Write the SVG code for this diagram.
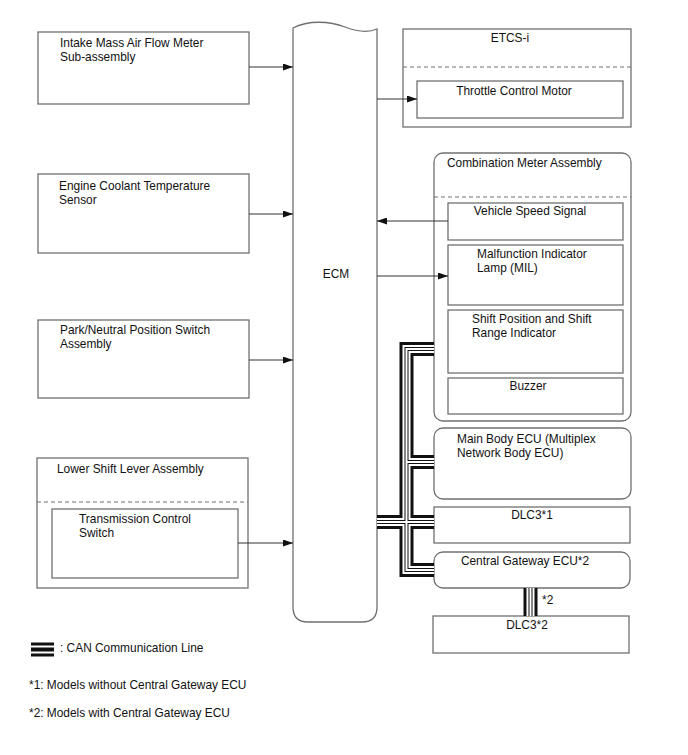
<svg xmlns="http://www.w3.org/2000/svg" xmlns:xlink="http://www.w3.org/1999/xlink" width="688" height="755" viewBox="0 0 688 755">
<style>
  .box{fill:#fff;stroke:#707070;stroke-width:1.3}
  .dash{fill:none;stroke:#707070;stroke-width:1.1;stroke-dasharray:4 3}
  .t{font-family:"Liberation Sans",Arial,sans-serif;font-size:11.9px;fill:#111}
  .m{text-anchor:middle}
  .arr{fill:none;stroke:#333;stroke-width:1;marker-end:url(#ah)}
  .l1{fill:none;stroke:#111;stroke-width:14;stroke-linejoin:miter}
  .l2{fill:none;stroke:#fff;stroke-width:8;stroke-linejoin:miter}
  .l3{fill:none;stroke:#111;stroke-width:4;stroke-linejoin:miter}
  .l4{fill:none;stroke:#fff;stroke-width:2;stroke-linejoin:miter}
</style>
<defs>
  <marker id="ah" markerUnits="userSpaceOnUse" markerWidth="10" markerHeight="7" refX="10" refY="3.5" orient="auto">
    <path d="M0,0 L10,3.5 L0,7 Z" fill="#111"/>
  </marker>
  <path id="bus" d="M434,349 H406.5 V570 H434 M377,522 H434 M406.5,462 H434 M530.5,588 V616"/>
  <path id="leg" d="M31,649.5 H54"/>
</defs>
<rect width="688" height="755" fill="#fff"/>

<g id="ecm">
  <path class="box" d="M293,28 C308,20 330,21 345,27 C358,32 368,33 377,29 L377,607 Q377,622 362,622 L308,622 Q293,622 293,607 Z"/>
  <text class="t m" x="336" y="278">ECM</text>
</g>

<g id="maf">
  <rect class="box" x="38" y="32" width="211" height="72"/>
  <text class="t" x="60" y="47">Intake Mass Air Flow Meter</text>
  <text class="t" x="60" y="61">Sub-assembly</text>
</g>
<g id="ect">
  <rect class="box" x="38" y="174" width="211" height="79"/>
  <text class="t" x="59" y="190">Engine Coolant Temperature</text>
  <text class="t" x="59" y="204">Sensor</text>
</g>
<g id="pnp">
  <rect class="box" x="38" y="320" width="211" height="78"/>
  <text class="t" x="60" y="334">Park/Neutral Position Switch</text>
  <text class="t" x="60" y="348">Assembly</text>
</g>
<g id="lsl">
  <rect class="box" x="37" y="458" width="211" height="130"/>
  <line class="dash" x1="37" y1="502" x2="248" y2="502"/>
  <text class="t" x="57" y="473">Lower Shift Lever Assembly</text>
</g>
<g id="tcs">
  <rect class="box" x="52" y="509" width="186" height="69"/>
  <text class="t" x="79" y="523">Transmission Control</text>
  <text class="t" x="79" y="537">Switch</text>
</g>

<g id="etcs">
  <rect class="box" x="403" y="29" width="228" height="98"/>
  <line class="dash" x1="403" y1="67" x2="631" y2="67"/>
  <text class="t m" x="510" y="42">ETCS-i</text>
</g>
<g id="tcm">
  <rect class="box" x="417" y="81" width="206" height="37"/>
  <text class="t m" x="514" y="95">Throttle Control Motor</text>
</g>

<g id="combo">
  <rect class="box" x="434" y="153" width="197" height="268" rx="9" ry="9"/>
  <line class="dash" x1="434" y1="197" x2="631" y2="197"/>
  <text class="t" x="447" y="167">Combination Meter Assembly</text>
</g>
<g id="vss">
  <rect class="box" x="448" y="203" width="175" height="37"/>
  <text class="t m" x="530" y="215">Vehicle Speed Signal</text>
</g>
<g id="mil">
  <rect class="box" x="448" y="245" width="175" height="60"/>
  <text class="t" x="477" y="258">Malfunction Indicator</text>
  <text class="t" x="477" y="272">Lamp (MIL)</text>
</g>
<g id="spi">
  <rect class="box" x="448" y="310" width="175" height="63"/>
  <text class="t" x="472" y="323">Shift Position and Shift</text>
  <text class="t" x="472" y="337">Range Indicator</text>
</g>
<g id="buzzer">
  <rect class="box" x="448" y="378" width="175" height="36"/>
  <text class="t m" x="528" y="390">Buzzer</text>
</g>

<g id="mainbody">
  <rect class="box" x="434" y="428" width="197" height="71" rx="9" ry="9"/>
  <text class="t" x="457" y="443">Main Body ECU (Multiplex</text>
  <text class="t" x="457" y="457">Network Body ECU)</text>
</g>
<g id="dlc3-1">
  <rect class="box" x="434" y="507" width="196" height="36"/>
  <text class="t m" x="532" y="519">DLC3*1</text>
</g>
<g id="gateway">
  <rect class="box" x="434" y="552" width="196" height="36" rx="9" ry="9"/>
  <text class="t m" x="525" y="565">Central Gateway ECU*2</text>
</g>
<g id="dlc3-2">
  <rect class="box" x="433" y="616" width="196" height="37"/>
  <text class="t m" x="527" y="629">DLC3*2</text>
</g>

<g id="connectors">
  <line class="arr" x1="249" y1="67" x2="293" y2="67"/>
  <line class="arr" x1="249" y1="214" x2="293" y2="214"/>
  <line class="arr" x1="249" y1="360" x2="293" y2="360"/>
  <line class="arr" x1="238" y1="543" x2="293" y2="543"/>
  <line class="arr" x1="377" y1="99" x2="417" y2="99"/>
  <line class="arr" x1="448" y1="221" x2="377" y2="221"/>
  <line class="arr" x1="377" y1="276" x2="448" y2="276"/>
  <use xlink:href="#bus" class="l1"/>
  <use xlink:href="#bus" class="l2"/>
  <use xlink:href="#bus" class="l3"/>
  <use xlink:href="#bus" class="l4"/>
  <text class="t" x="542" y="604">*2</text>
</g>

<g id="legend">
  <use xlink:href="#leg" class="l1"/>
  <use xlink:href="#leg" class="l2"/>
  <use xlink:href="#leg" class="l3"/>
  <text class="t" x="60" y="652">: CAN Communication Line</text>
  <text class="t" x="29" y="689">*1: Models without Central Gateway ECU</text>
  <text class="t" x="29" y="717">*2: Models with Central Gateway ECU</text>
</g>
</svg>
